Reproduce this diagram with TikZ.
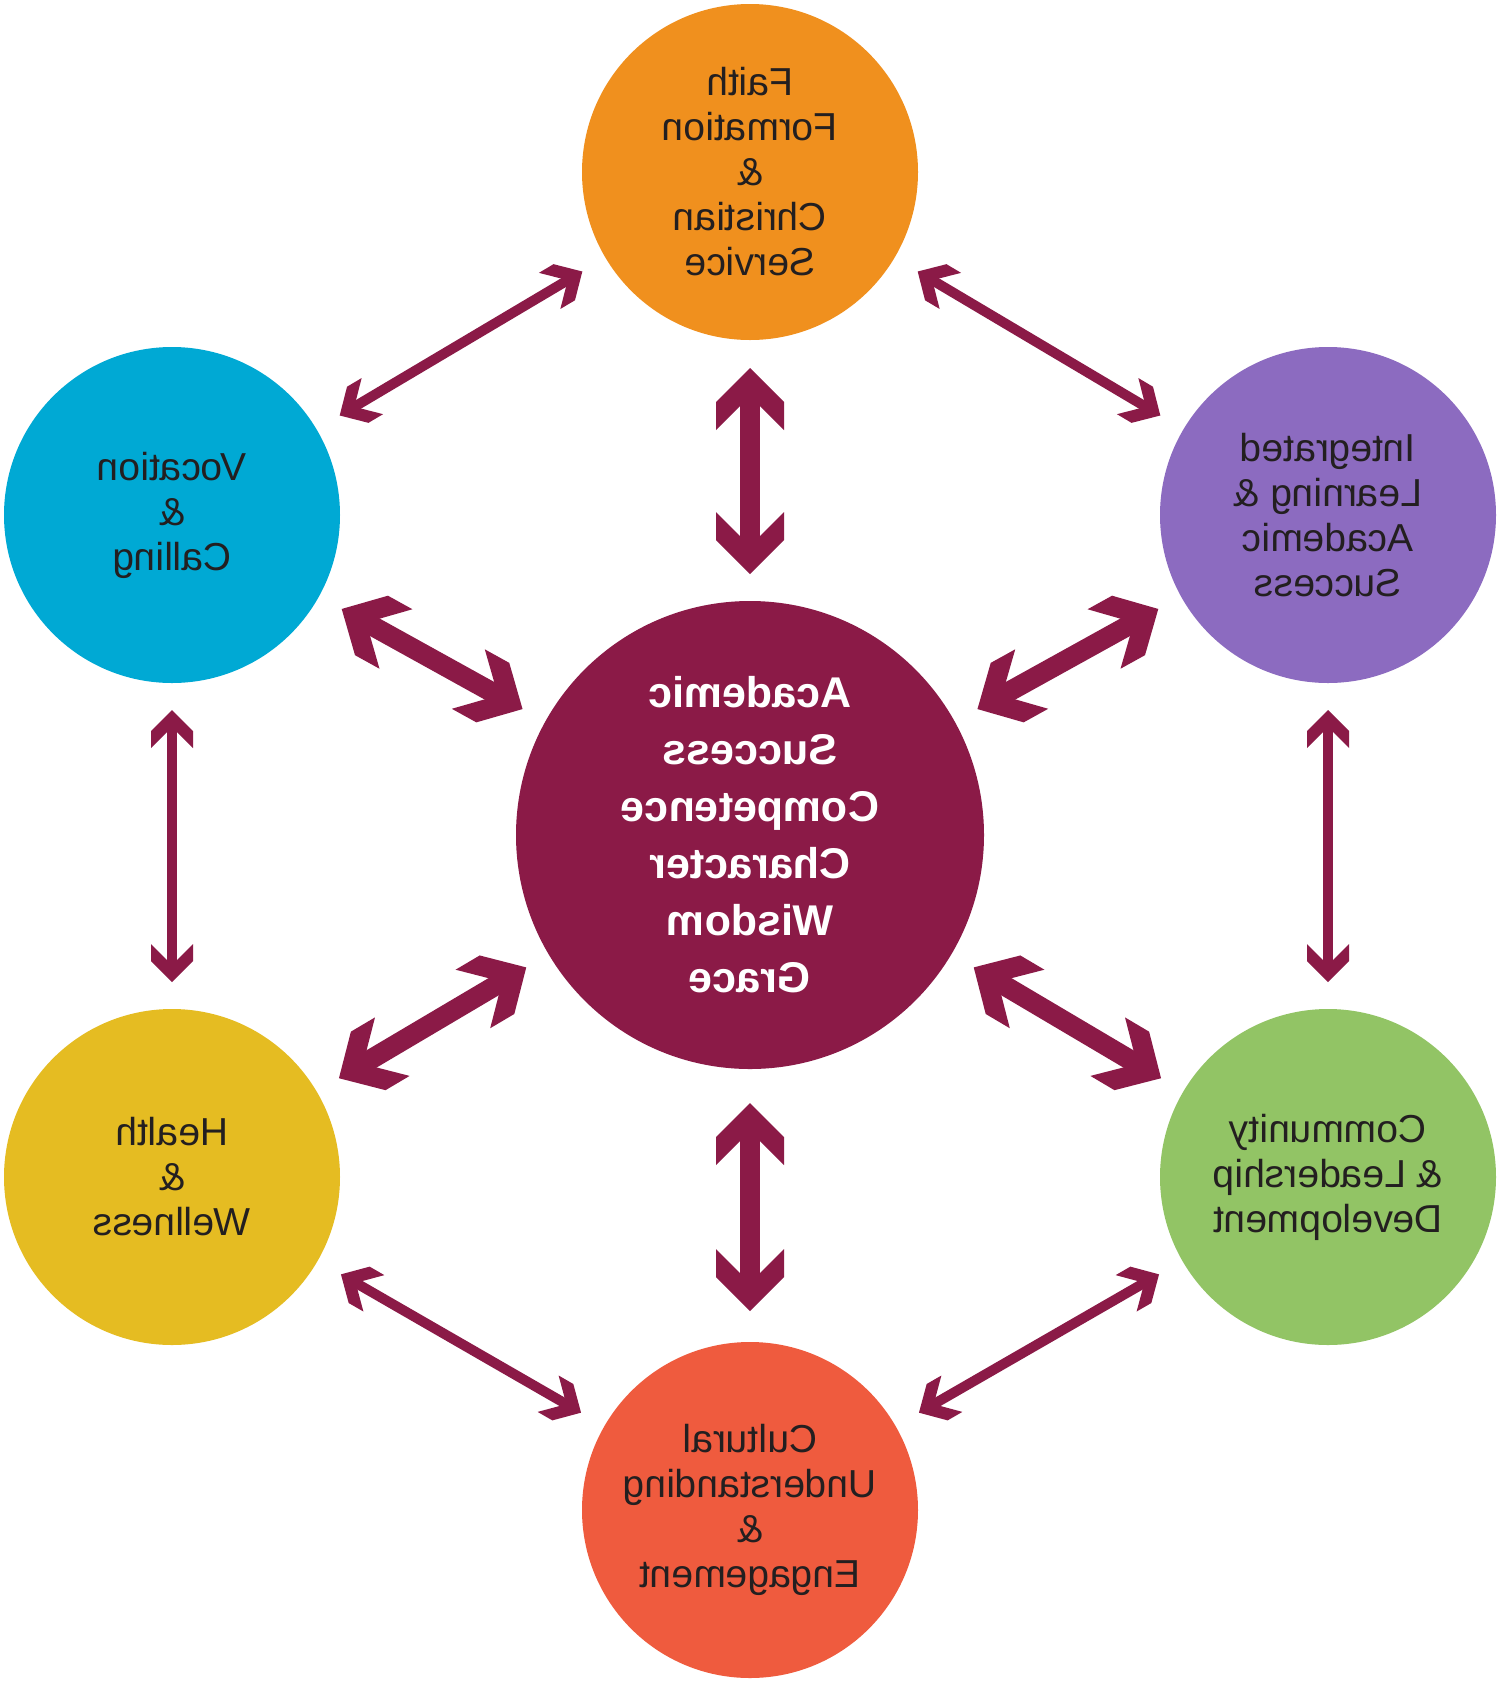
\documentclass[tikz,border=0pt]{standalone}
\usepackage{graphicx}
\usepackage{fontspec}
\setmainfont{Liberation Sans}
\usetikzlibrary{arrows.meta}

\definecolor{cOrange}{HTML}{F0901E}
\definecolor{cBlue}{HTML}{00A9D4}
\definecolor{cPurple}{HTML}{8C6BC0}
\definecolor{cYellow}{HTML}{E5BC22}
\definecolor{cGreen}{HTML}{92C465}
\definecolor{cRed}{HTML}{EF5B3E}
\definecolor{cMaroon}{HTML}{8B1A47}
\definecolor{cInk}{HTML}{231F20}

\newcommand\mir[1]{\reflectbox{#1}}

\pgfdeclarearrow{
  name = Chev,
  parameters = {\the\pgfarrowlength,\the\pgfarrowwidth,\the\pgfarrowlinewidth},
  setup code = {
    \pgfarrowssettipend{0pt}
    \pgfmathsetlengthmacro\chevlineend{-0.5*\pgfarrowlinewidth-0.5*\pgfarrowlength}
    \pgfarrowssetlineend{\chevlineend}
    \pgfmathsetlengthmacro\chevback{-0.5*\pgfarrowwidth-\pgfarrowlength}
    \pgfarrowssetbackend{\chevback}
    \pgfarrowshullpoint{0pt}{0pt}
    \pgfarrowsupperhullpoint{\chevback}{0.5\pgfarrowwidth}
    \pgfarrowssavethe\pgfarrowlength
    \pgfarrowssavethe\pgfarrowwidth
    \pgfarrowssavethe\pgfarrowlinewidth
  },
  drawing code = {
    \pgfpathmoveto{\pgfqpoint{0pt}{0pt}}
    \pgfpathlineto{\pgfpoint{-0.5*\pgfarrowwidth}{0.5*\pgfarrowwidth}}
    \pgfpathlineto{\pgfpoint{-0.5*\pgfarrowwidth-\pgfarrowlength}{0.5*\pgfarrowwidth}}
    \pgfpathlineto{\pgfpoint{-0.5*\pgfarrowlinewidth-\pgfarrowlength}{0.5*\pgfarrowlinewidth}}
    \pgfpathlineto{\pgfpoint{-0.5*\pgfarrowlinewidth-\pgfarrowlength}{-0.5*\pgfarrowlinewidth}}
    \pgfpathlineto{\pgfpoint{-0.5*\pgfarrowwidth-\pgfarrowlength}{-0.5*\pgfarrowwidth}}
    \pgfpathlineto{\pgfpoint{-0.5*\pgfarrowwidth}{-0.5*\pgfarrowwidth}}
    \pgfpathclose
    \pgfusepathqfill
  },
  defaults = {length=28pt, width=68pt}
}

\tikzset{
  outer/.style={circle, minimum size=336pt, inner sep=0pt, outer sep=0pt,
    text=cInk, align=center, font=\fontsize{39pt}{45pt}\selectfont},
  core/.style={circle, minimum size=468pt, inner sep=0pt, outer sep=0pt,
    fill=cMaroon, text=white, align=center,
    font=\fontsize{43pt}{57pt}\selectfont\bfseries},
  hexarrow/.style={draw=cMaroon, fill=cMaroon, line width=10pt,
    arrows={Chev[length=17pt,width=42pt]-Chev[length=17pt,width=42pt]},
    shorten <=27pt, shorten >=27pt},
  spokearrow/.style={draw=cMaroon, fill=cMaroon, line width=20pt,
    arrows={Chev[length=28pt,width=68pt]-Chev[length=28pt,width=68pt]},
    shorten <=26pt, shorten >=26pt}
}

\begin{document}
\begin{tikzpicture}[x=1pt, y=-1pt]
\useasboundingbox (0,0) rectangle (1500,1682);
\fill[white] (0,0) rectangle (1500,1682);

\node[outer, fill=cOrange] (faith) at (750,172)
  {\mir{Faith}\\\mir{Formation}\\\mir{\&}\\\mir{Christian}\\\mir{Service}};
\node[outer, fill=cBlue] (voc) at (172,515)
  {\mir{Vocation}\\\mir{\&}\\\mir{Calling}};
\node[outer, fill=cPurple] (integ) at (1328,515)
  {\mir{Integrated}\\\mir{Learning \&}\\\mir{Academic}\\\mir{Success}};
\node[outer, fill=cYellow] (health) at (172,1177)
  {\mir{Health}\\\mir{\&}\\\mir{Wellness}};
\node[outer, fill=cGreen] (comm) at (1328,1177)
  {\mir{Community}\\\mir{\& Leadership}\\\mir{Development}};
\node[outer, fill=cRed] (cult) at (750,1510)
  {\mir{Cultural}\\\mir{Understanding}\\\mir{\&}\\\mir{Engagement}};
\node[core] (center) at (750,835)
  {\mir{Academic}\\\mir{Success}\\\mir{Competence}\\\mir{Character}\\\mir{Wisdom}\\\mir{Grace}};

% outer ring
\draw[hexarrow] (voc) -- (faith);
\draw[hexarrow] (faith) -- (integ);
\draw[hexarrow] (integ) -- (comm);
\draw[hexarrow] (comm) -- (cult);
\draw[hexarrow] (cult) -- (health);
\draw[hexarrow] (health) -- (voc);

% spokes
\draw[spokearrow, shorten <=27pt, shorten >=28pt] (center) -- (faith);
\draw[spokearrow] (center) -- (integ);
\draw[spokearrow] (center) -- (comm);
\draw[spokearrow, shorten <=34pt, shorten >=31pt] (center) -- (cult);
\draw[spokearrow] (center) -- (health);
\draw[spokearrow] (center) -- (voc);
\end{tikzpicture}
\end{document}
